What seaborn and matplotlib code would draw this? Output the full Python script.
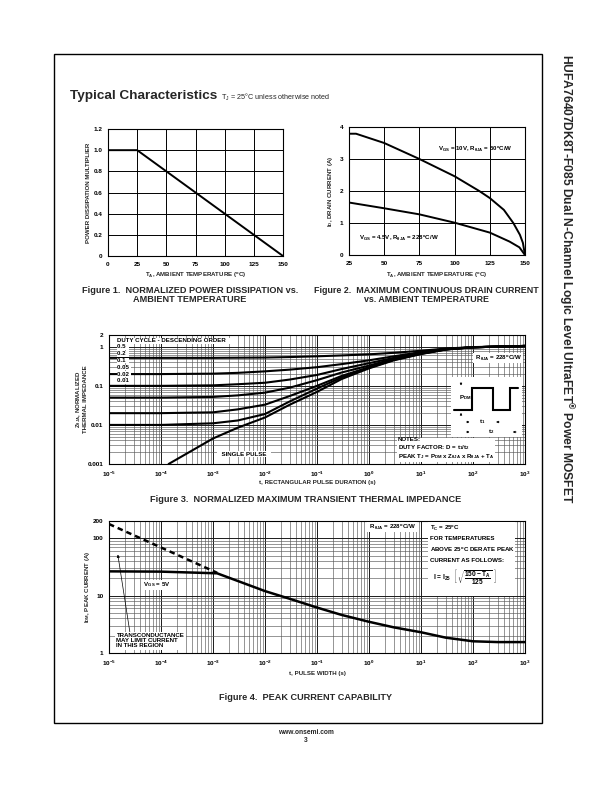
import numpy as np
import pandas as pd
import matplotlib
matplotlib.use('Agg')
import matplotlib.pyplot as plt
import seaborn as sns
from matplotlib.patches import Rectangle
from matplotlib.ticker import LogLocator, NullFormatter, FixedLocator

sns.set_theme(style='white')
plt.rcParams['font.family'] = ['Liberation Sans', 'DejaVu Sans']
plt.rcParams['mathtext.fontset'] = 'custom'
plt.rcParams['mathtext.rm'] = 'Liberation Sans'
plt.rcParams['mathtext.it'] = 'Liberation Sans'
plt.rcParams['mathtext.bf'] = 'Liberation Sans:bold'
plt.rcParams['mathtext.default'] = 'regular'

# ---- data ----
# Figure 1: power dissipation multiplier
temp_f1 = [0, 25, 150]
pd_mult = [1.0, 1.0, 0.0]

# Figure 2: max continuous drain current
temp_10v = [25, 30, 50, 75, 100, 117.5, 125, 135, 141.7, 146.4, 148.5, 150]
id_10v = [3.79, 3.79, 3.5, 3.0, 2.46, 2.0, 1.78, 1.41, 1.0, 0.63, 0.38, 0.0]
temp_45v = [25, 50, 75, 100, 125, 139, 146, 150]
id_45v = [1.64, 1.46, 1.27, 1.01, 0.70, 0.42, 0.24, 0.0]

# Figure 3: transient thermal impedance
t_pulse = [1e-5, 1e-4, 1e-3, 3e-3, 1e-2, 3e-2, 1e-1, 3e-1, 1, 3, 10, 30, 100, 1000]
z_d050 = [0.52, 0.52, 0.52, 0.525, 0.53, 0.545, 0.57, 0.60, 0.64, 0.70, 0.79, 0.90, 0.98, 1.05]
z_d020 = [0.20, 0.20, 0.205, 0.215, 0.235, 0.26, 0.30, 0.36, 0.45, 0.57, 0.73, 0.88, 0.97, 1.05]
z_d010 = [0.10, 0.10, 0.103, 0.11, 0.12, 0.145, 0.19, 0.27, 0.38, 0.52, 0.70, 0.87, 0.97, 1.05]
z_d005 = [0.05, 0.05, 0.052, 0.057, 0.067, 0.09, 0.14, 0.22, 0.33, 0.49, 0.68, 0.86, 0.97, 1.05]
z_d002 = [0.02, 0.02, 0.021, 0.025, 0.033, 0.055, 0.10, 0.18, 0.30, 0.47, 0.67, 0.86, 0.97, 1.05]
z_d001 = [0.01, 0.01, 0.011, 0.013, 0.019, 0.04, 0.085, 0.165, 0.29, 0.46, 0.66, 0.85, 0.97, 1.05]
t_single = [1.4e-4, 1e-3, 3e-3, 1e-2, 3e-2, 1e-1, 3e-1, 1, 3, 10, 30, 100, 1000]
z_single = [0.001, 0.0045, 0.0085, 0.0155, 0.033, 0.07, 0.15, 0.28, 0.45, 0.65, 0.85, 0.97, 1.05]
duty_labels = ['0.5', '0.2', '0.1', '0.05', '0.02', '0.01']

# Figure 4: peak current capability
t_limit = [1e-5, 1.2e-3]
i_limit = [177, 25]
t_peak = [1e-5, 1e-4, 1.2e-3, 3e-3, 1e-2, 3e-2, 1e-1, 3e-1, 1, 3, 10, 30, 100, 300, 1000]
i_peak = [26.5, 26.2, 24.5, 18.0, 12.0, 8.8, 6.2, 4.6, 3.5, 2.8, 2.3, 1.85, 1.6, 1.55, 1.55]

log_ticks = [1e-5, 1e-4, 1e-3, 1e-2, 1e-1, 1, 10, 100, 1000]
log_labels = ['10$^{-5}$', '10$^{-4}$', '10$^{-3}$', '10$^{-2}$', '10$^{-1}$',
              '10$^{0}$', '10$^{1}$', '10$^{2}$', '10$^{3}$']

W, H = 612, 792
fig = plt.figure(figsize=(W / 100, H / 100), dpi=100)


def fx(px):
    return px / W


def fy(py):
    return 1 - py / H


def axes_px(x0, y0, x1, y1):
    return fig.add_axes([fx(x0), fy(y1), (x1 - x0) / W, (y1 - y0) / H])


def style(ax, fs=4.6):
    for s in ax.spines.values():
        s.set_color('black')
        s.set_linewidth(0.8)
    ax.tick_params(which='both', length=0, labelsize=fs, pad=4, colors='black')
    for lab in ax.get_xticklabels() + ax.get_yticklabels():
        lab.set_fontweight('bold')
    ax.xaxis.label.set_fontsize(4.4)
    ax.yaxis.label.set_fontsize(4.4)
    ax.xaxis.label.set_fontweight('bold')
    ax.yaxis.label.set_fontweight('bold')


wbox = dict(facecolor='white', edgecolor='none', pad=0.6)
tkw = dict(fontsize=4.4, fontweight='bold', color='black')

# page frame
fig.patches.append(Rectangle((fx(54), fy(723)), (542 - 54) / W, (723 - 54) / H,
                             transform=fig.transFigure, fill=False, lw=1.0, ec='black'))

# header
fig.text(fx(70), fy(96), 'Typical Characteristics', fontsize=9.7, fontweight='bold', va='center')
fig.text(fx(221), fy(97), 'T$_J$ = 25\u00b0C unless otherwise noted', fontsize=5.2, va='center')

# side title
fig.text(fx(566), fy(54), 'HUFA76407DK8T-F085 Dual N-Channel Logic Level UltraFET$^{\u00ae}$ Power MOSFET',
         rotation=-90, fontsize=8.75, fontweight='bold', ha='center', va='top')

# ---------------- Figure 1 ----------------
ax1 = axes_px(108, 129, 283, 256)
sns.lineplot(x=temp_f1, y=pd_mult, ax=ax1, color='black', lw=1.4)
ax1.set_xlim(0, 150)
ax1.set_ylim(0, 1.2)
ax1.set_xticks([0, 25, 50, 75, 100, 125, 150])
ax1.set_yticks([0, 0.2, 0.4, 0.6, 0.8, 1.0, 1.2])
ax1.set_yticklabels(['0', '0.2', '0.4', '0.6', '0.8', '1.0', '1.2'])
ax1.grid(True, color='black', lw=0.7)
ax1.set_ylabel('POWER DISSIPATION MULTIPLIER')
ax1.set_xlabel('T$_A$, AMBIENT TEMPERATURE ($^o$C)')
style(ax1)
ax1.yaxis.set_label_coords(-0.095, 0.5)
ax1.xaxis.set_label_coords(0.5, -0.115)
fig.text(fx(190), fy(295), 'Figure 1.  NORMALIZED POWER DISSIPATION vs.\nAMBIENT TEMPERATURE',
         fontsize=6.6, fontweight='bold', ha='center', va='center', linespacing=1.0)

# ---------------- Figure 2 ----------------
ax2 = axes_px(349, 127, 525, 255)
sns.lineplot(x=temp_10v, y=id_10v, ax=ax2, color='black', lw=1.4)
sns.lineplot(x=temp_45v, y=id_45v, ax=ax2, color='black', lw=1.4)
ax2.set_xlim(25, 150)
ax2.set_ylim(0, 4)
ax2.set_xticks([25, 50, 75, 100, 125, 150])
ax2.set_yticks([0, 1, 2, 3, 4])
ax2.grid(True, color='black', lw=0.7)
ax2.set_ylabel('I$_D$, DRAIN CURRENT (A)')
ax2.set_xlabel('T$_A$, AMBIENT TEMPERATURE ($^o$C)')
style(ax2)
ax2.yaxis.set_label_coords(-0.08, 0.5)
ax2.xaxis.set_label_coords(0.5, -0.12)
fig.text(fx(438), fy(148), 'V$_{GS}$ = 10V, R$_{\u03b8JA}$ = 50$^o$C/W', ha='left', va='center', **tkw)
fig.text(fx(359), fy(237), 'V$_{GS}$ = 4.5V, R$_{\u03b8JA}$ = 228$^o$C/W', ha='left', va='center', **tkw)
fig.text(fx(426), fy(295), 'Figure 2.  MAXIMUM CONTINUOUS DRAIN CURRENT\nvs. AMBIENT TEMPERATURE',
         fontsize=6.4, fontweight='bold', ha='center', va='center', linespacing=1.0)


def log_grid(ax):
    for axis in (ax.xaxis, ax.yaxis):
        axis.set_minor_locator(LogLocator(base=10, subs=np.arange(2, 10), numticks=100))
        axis.set_minor_formatter(NullFormatter())
    ax.grid(True, which='major', color='0.1', lw=0.7)
    ax.grid(True, which='minor', color='0.35', lw=0.45)


# ---------------- Figure 3 ----------------
ax3 = axes_px(109, 335, 525, 464)
ax3.set_xscale('log')
ax3.set_yscale('log')
for zc in [z_d050, z_d020, z_d010, z_d005, z_d002, z_d001]:
    sns.lineplot(x=t_pulse, y=zc, ax=ax3, color='black', lw=1.5)
sns.lineplot(x=t_single, y=z_single, ax=ax3, color='black', lw=1.5)
ax3.set_xlim(1e-5, 1e3)
ax3.set_ylim(0.001, 2)
log_grid(ax3)
ax3.xaxis.set_major_locator(FixedLocator(log_ticks))
ax3.set_xticklabels(log_labels)
ax3.yaxis.set_major_locator(FixedLocator([0.001, 0.01, 0.1, 1, 2]))
ax3.set_yticklabels(['0.001', '0.01', '0.1', '1', '2'])
ax3.set_ylabel('Z$_{\u03b8JA}$, NORMALIZED\nTHERMAL IMPEDANCE', linespacing=1.1)
ax3.set_xlabel('t, RECTANGULAR PULSE DURATION (s)')
style(ax3)
ax3.yaxis.set_label_coords(-0.05, 0.5)
ax3.xaxis.set_label_coords(0.5, -0.125)

fig.text(fx(117), fy(341), 'DUTY CYCLE - DESCENDING ORDER   ', ha='left', va='center', bbox=wbox, **tkw)
for k, lab in enumerate(duty_labels):
    fig.text(fx(117), fy(347 + 6.8 * k), lab.ljust(5), ha='left', va='center',
             bbox=dict(facecolor='white', edgecolor='none', pad=0.2), **tkw)
fig.text(fx(218), fy(454), '  SINGLE PULSE  ', ha='left', va='center', bbox=wbox, **tkw)
fig.text(fx(474), fy(358), ' R$_{\u03b8JA}$ = 228$^o$C/W ', ha='left', va='center', bbox=wbox, **tkw)
fig.text(fx(398), fy(449), 'NOTES:\nDUTY FACTOR: D = t$_1$/t$_2$\nPEAK T$_J$ = P$_{DM}$ x Z$_{\u03b8JA}$ x R$_{\u03b8JA}$ + T$_A$',
         ha='left', va='center', linespacing=1.05, bbox=wbox, **tkw)

# pulse waveform inset (white panel over the grid)
axp = axes_px(451, 377, 522, 437)
axp.set_facecolor('white')
axp.set_xlim(0, 71)
axp.set_ylim(60, 0)
axp.set_xticks([])
axp.set_yticks([])
for s in axp.spines.values():
    s.set_visible(False)
axp.plot([3, 21.3, 21.3, 42.3, 42.3, 59, 59, 67], [33, 33, 11.3, 11.3, 33, 33, 11.3, 11.3],
         color='black', lw=1.5, solid_joinstyle='miter')
axp.text(8, 21, 'P$_{DM}$', **tkw, ha='left', va='center')
arr = dict(arrowstyle='-|>', color='black', lw=0.5, mutation_scale=3)
axp.plot([4, 10], [33, 33], color='black', lw=0.5)
axp.annotate('', xy=(10, 11.3), xytext=(10, 3), arrowprops=arr)
axp.annotate('', xy=(10, 33), xytext=(10, 41), arrowprops=arr)
axp.annotate('', xy=(21.3, 45), xytext=(13, 45), arrowprops=arr)
axp.annotate('', xy=(42.3, 45), xytext=(51, 45), arrowprops=arr)
axp.annotate('', xy=(21.3, 55), xytext=(13, 55), arrowprops=arr)
axp.annotate('', xy=(59, 55), xytext=(68, 55), arrowprops=arr)
axp.text(31, 45, 't$_1$', ha='center', va='center', **tkw)
axp.text(40, 55, 't$_2$', ha='center', va='center', **tkw)

fig.text(fx(306), fy(500), 'Figure 3.  NORMALIZED MAXIMUM TRANSIENT THERMAL IMPEDANCE',
         fontsize=6.6, fontweight='bold', ha='center', va='center')

# ---------------- Figure 4 ----------------
ax4 = axes_px(109, 521, 525, 653)
ax4.set_xscale('log')
ax4.set_yscale('log')
sns.lineplot(x=t_limit, y=i_limit, ax=ax4, color='black', lw=1.8, linestyle=(0, (2.2, 1.6)))
sns.lineplot(x=t_peak, y=i_peak, ax=ax4, color='black', lw=1.8)
ax4.set_xlim(1e-5, 1e3)
ax4.set_ylim(1, 200)
log_grid(ax4)
ax4.xaxis.set_major_locator(FixedLocator(log_ticks))
ax4.set_xticklabels(log_labels)
ax4.yaxis.set_major_locator(FixedLocator([1, 10, 100, 200]))
ax4.set_yticklabels(['1', '10', '100', '200'])
ax4.set_ylabel('I$_{DM}$, PEAK CURRENT (A)')
ax4.set_xlabel('t, PULSE WIDTH (s)')
style(ax4)
ax4.yaxis.set_label_coords(-0.04, 0.5)
ax4.xaxis.set_label_coords(0.5, -0.135)

fig.text(fx(142), fy(585), ' V$_{GS}$ = 5V ', ha='left', va='center', bbox=wbox, **tkw)
ax4.annotate('TRANSCONDUCTANCE\nMAY LIMIT CURRENT\nIN THIS REGION', xy=(1.45e-5, 58),
             xytext=(0.018, 0.035), textcoords='axes fraction', ha='left', va='bottom',
             linespacing=1.0, bbox=dict(facecolor='white', edgecolor='none', pad=1.0),
             arrowprops=dict(arrowstyle='-|>', color='black', lw=0.5, mutation_scale=4,
                             shrinkA=0, relpos=(0.2, 1.0)), **tkw)
fig.text(fx(368), fy(527), ' R$_{\u03b8JA}$ = 228$^o$C/W ', ha='left', va='center', bbox=wbox, **tkw)
fig.patches.append(Rectangle((fx(428), fy(596)), (515 - 428) / W, (596 - 522) / H,
                             transform=fig.transFigure, fc='white', ec='none', zorder=3))
notes4 = ['T$_C$ = 25$^o$C', 'FOR TEMPERATURES', 'ABOVE 25$^o$C DERATE PEAK', 'CURRENT AS FOLLOWS:']
for k, line in enumerate(notes4):
    fig.text(fx(430), fy(528 + 10.7 * k), line, ha='left', va='center', zorder=4, **tkw)
fig.text(fx(433), fy(578), r'I = I$_{25}$  $\left[\;\sqrt{\dfrac{150 - T_A}{125}}\;\;\right]$',
         ha='left', va='center', zorder=4, fontsize=4.8, fontweight='bold', color='black')

fig.text(fx(306), fy(697), 'Figure 4.  PEAK CURRENT CAPABILITY',
         fontsize=6.6, fontweight='bold', ha='center', va='center')

# footer
fig.text(fx(306), fy(733), 'www.onsemi.com', fontsize=4.8, fontweight='bold', ha='center', va='center')
fig.text(fx(306), fy(741), '3', fontsize=4.8, fontweight='bold', ha='center', va='center')

fig.savefig('out.png', dpi=100, facecolor='white')
